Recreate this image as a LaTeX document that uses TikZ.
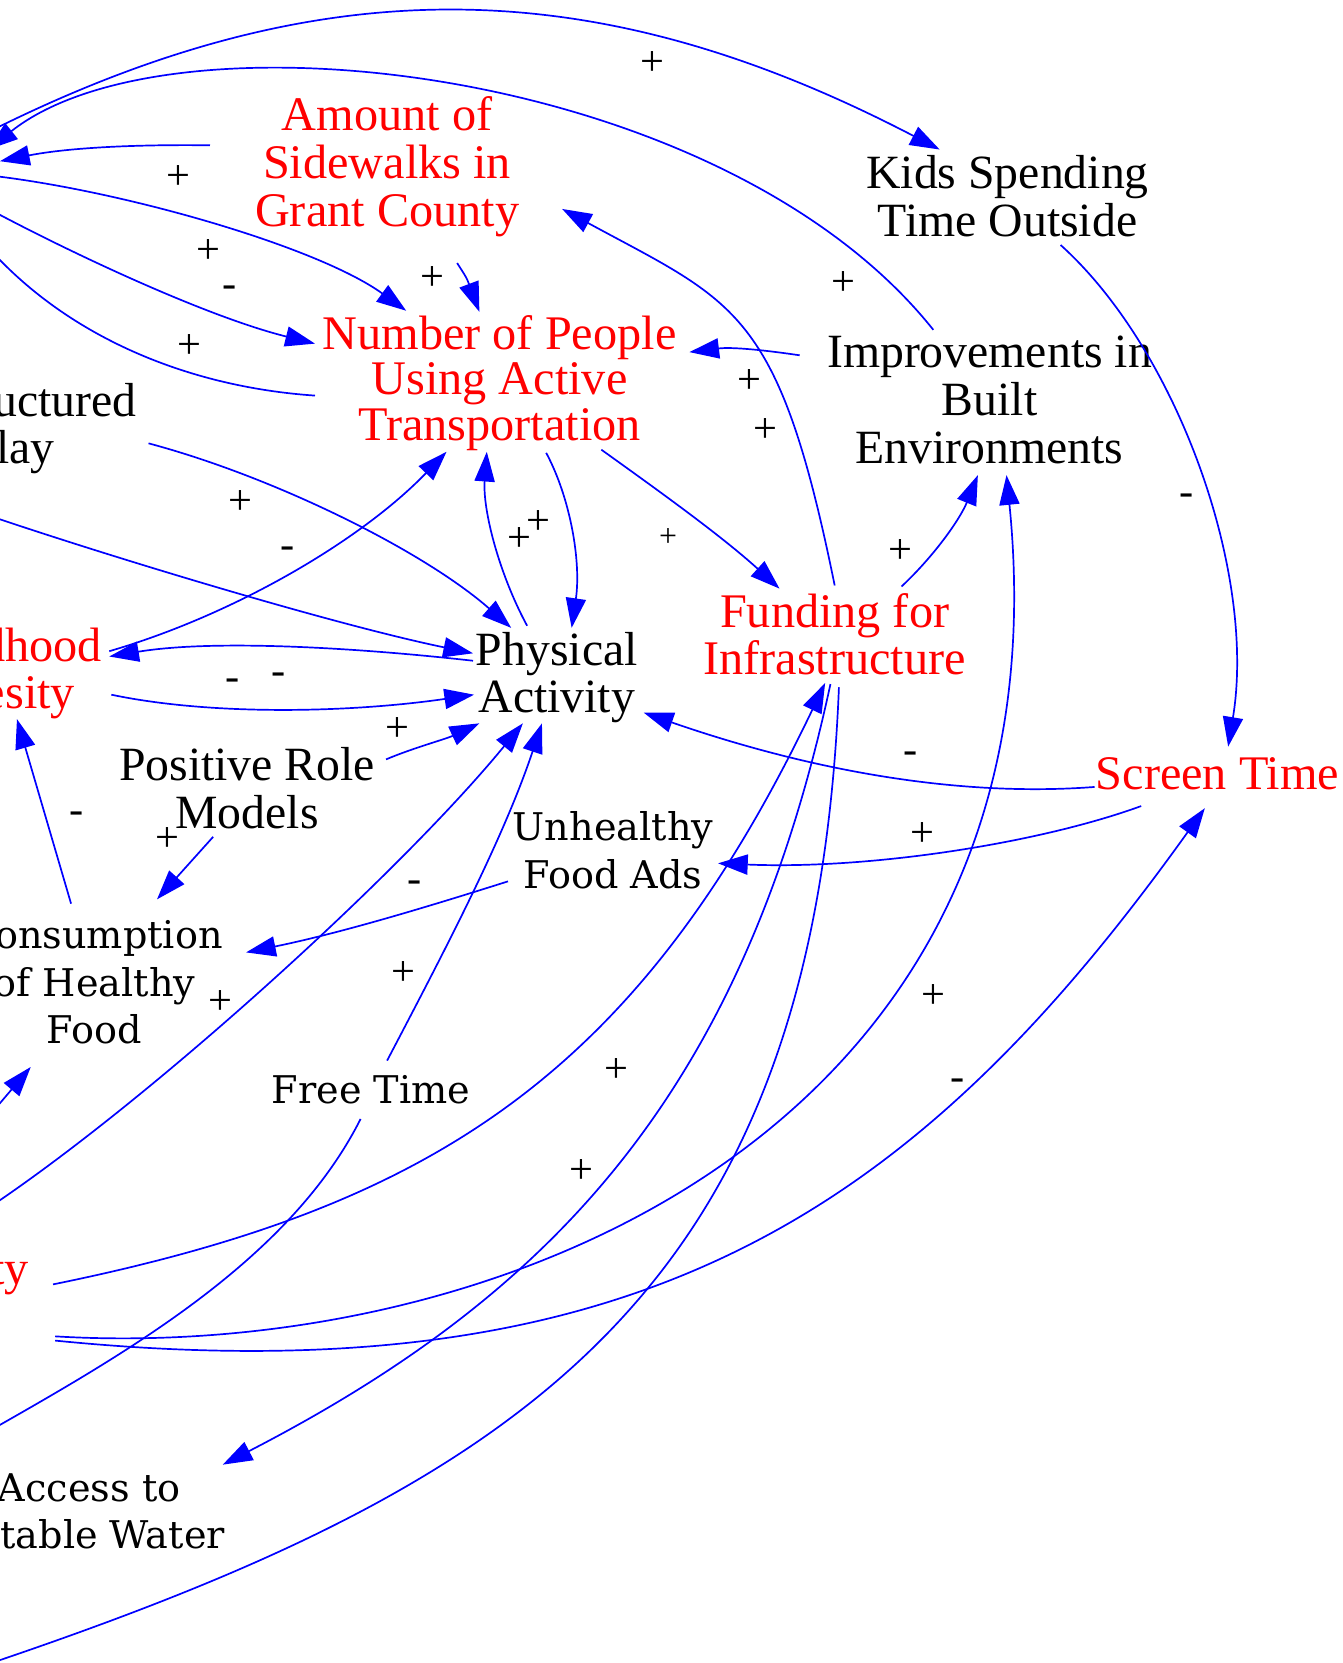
\documentclass[tikz,border=0pt]{standalone}
\usepackage{fontspec}
\setmainfont{Liberation Serif}
\newfontfamily\schoolfont{DejaVu Serif}
\usetikzlibrary{arrows.meta}
\begin{document}
\begin{tikzpicture}[x=1pt,y=-1pt,
  var/.style={font=\fontsize{45}{45}\selectfont, align=center, inner sep=0pt},
  keyvar/.style={font=\fontsize{45.5}{45}\selectfont, align=center, inner sep=0pt, text=red},
  widevar/.style={font=\schoolfont\fontsize{36}{45}\selectfont, align=center, inner sep=0pt},
  link/.style={draw=blue, line width=1.6pt, -{Triangle[length=28pt,width=19pt]}},
  tail/.style={draw=blue, line width=1.6pt},
  sign/.style={font=\fontsize{40}{40}\selectfont, inner sep=0pt},
  smallsign/.style={font=\fontsize{30}{30}\selectfont, inner sep=0pt},
]
\useasboundingbox (0,0) rectangle (1266,1568);
\fill[white] (0,0) rectangle (1266,1568);
\clip (0,0) rectangle (1266,1568);

% variables
\node[keyvar] (side) at (365,157) {Amount of\\Sidewalks in\\Grant County};
\node[keyvar, font=\fontsize{45.5}{43}\selectfont] (nump) at (471,361) {Number of People\\Using Active\\Transportation};
\node[var] (kids) at (950,185) {Kids Spending\\Time Outside};
\node[var] (impr) at (933,377) {Improvements in\\Built\\Environments};
\node[var] (play) at (11.5,404) {Unstructured\\Play};
\node[keyvar] (obes) at (0,635) {Childhood\\Obesity};
\node[var] (phys) at (525,639) {Physical\\Activity};
\node[keyvar] (fund) at (787,598) {Funding for\\Infrastructure};
\node[keyvar] (scrn) at (1148,730) {Screen Time};
\node[var] (role) at (233,743) {Positive Role\\Models};
\node[widevar] (ads) at (578,802) {Unhealthy\\Food Ads};
\node[widevar] (cons) at (89,926) {Consumption\\of Healthy\\Food};
\node[widevar] (free) at (350,1027) {Free Time};
\node[keyvar] (pov) at (-43.7,1201) {Poverty};
\node[widevar] (acc) at (84,1425) {Access to\\Potable Water};

% loose ends leading to variables beyond the left margin
\coordinate (offA) at (-10,124);
\coordinate (offB) at (-11,141);
\coordinate (offC) at (0,152);
\coordinate (offD) at (-5,166);
\coordinate (offE) at (-5,200);
\coordinate (offF) at (-5,240);
\coordinate (offG) at (-5,488);
\coordinate (offH) at (-5,1135);
\coordinate (offI) at (-5,1046);
\coordinate (offJ) at (-15,1352);
\coordinate (offK) at (-20,1572);

% links
\draw[link] (offA) .. controls (308,-35) and (567,-25) .. ([shift={(-64,-44)}]kids.center);
\draw[link] ([shift={(-53,-66)}]impr.center) .. controls (680,60) and (160,5) .. (offB);
\draw[link] ([shift={(-167,-20)}]side.center) .. controls (120,136) and (60,140) .. (offC);
\draw[link] (offD) .. controls (120,181) and (300,233) .. ([shift={(-88,-68)}]nump.center);
\draw[link] (offE) .. controls (80,245) and (200,300) .. ([shift={(-174,-37)}]nump.center);
\draw[tail] ([shift={(-174,12)}]nump.center) .. controls (180,365) and (70,320) .. (offF);
\draw[link] ([shift={(66,91)}]side.center) .. controls (440,262) .. ([shift={(-19,-67)}]nump.center);
\draw[link] ([shift={(0,-46)}]fund.center) .. controls (734,291) and (694,286) .. ([shift={(165,40)}]side.center);
\draw[link] ([shift={(-179,-42)}]impr.center) .. controls (720,330) and (690,327) .. ([shift={(179,-29)}]nump.center);
\draw[link] ([shift={(96,63)}]nump.center) .. controls (620,462) and (680,505) .. ([shift={(-52,-43)}]fund.center);
\draw[link] ([shift={(63,-45)}]fund.center) .. controls (880,525) and (905,490) .. ([shift={(-11,71)}]impr.center);
\draw[link] ([shift={(50,46)}]kids.center) .. controls (1110,330) and (1185,540) .. ([shift={(10,-26)}]scrn.center);
\draw[link] ([shift={(128.5,14)}]play.center) .. controls (260,450) and (400,520) .. ([shift={(-43,-47)}]phys.center);
\draw[link] ([shift={(103,-21)}]obes.center) .. controls (220,580) and (340,510) .. ([shift={(-50,65)}]nump.center);
\draw[link] ([shift={(-28,-49)}]phys.center) .. controls (470,540) and (455,480) .. ([shift={(-12,65)}]nump.center);
\draw[link] ([shift={(44,66)}]nump.center) .. controls (538,470) and (548,530) .. ([shift={(14,-47)}]phys.center);
\draw[link] (offG) .. controls (120,530) and (320,590) .. ([shift={(-79,-23)}]phys.center);
\draw[link] ([shift={(-79,-16)}]phys.center) .. controls (330,610) and (200,603) .. ([shift={(103,-16)}]obes.center);
\draw[link] ([shift={(105,20)}]obes.center) .. controls (200,675) and (330,672) .. ([shift={(-78,16)}]phys.center);
\draw[link] ([shift={(131,-27)}]role.center) .. controls (390,705) and (420,697) .. ([shift={(-73,43)}]phys.center);
\draw[link] ([shift={(-32,46)}]role.center) -- ([shift={(59,-78)}]cons.center);
\draw[link] ([shift={(-22,-74)}]cons.center) -- ([shift={(16,43)}]obes.center);
\draw[link] ([shift={(-116,12)}]scrn.center) .. controls (900,752) and (760,725) .. ([shift={(82,33)}]phys.center);
\draw[link] ([shift={(-72,30)}]scrn.center) .. controls (980,795) and (820,820) .. ([shift={(99,12)}]ads.center);
\draw[link] ([shift={(-99,29)}]ads.center) .. controls (400,856) and (320,880) .. ([shift={(143,-28)}]cons.center);
\draw[link] ([shift={(15,-27)}]free.center) .. controls (420,895) and (475,790) .. ([shift={(-14,43)}]phys.center);
\draw[link] (offH) .. controls (150,1030) and (380,820) .. ([shift={(-32,43)}]phys.center);
\draw[link] (offI) -- ([shift={(-60,80)}]cons.center);
\draw[tail] ([shift={(-10,28)}]free.center) .. controls (272,1190) and (115,1278) .. (offJ);
\draw[link] ([shift={(93.7,10)}]pov.center) .. controls (404,1139) and (600,1016) .. ([shift={(-9,46)}]fund.center);
\draw[link] ([shift={(-4,47)}]fund.center) .. controls (699,1035) and (516,1223) .. ([shift={(126,-44)}]acc.center);
\draw[tail] ([shift={(4,50)}]fund.center) .. controls (768,1221) and (495,1399) .. (offK);
\draw[link] ([shift={(95.7,59)}]pov.center) .. controls (469,1285) and (1011,1066) .. ([shift={(16,71)}]impr.center);
\draw[link] ([shift={(95.7,63)}]pov.center) .. controls (605,1319) and (866,1139) .. ([shift={(-12,32)}]scrn.center);

% polarity signs
\node[sign] (s1) at (615,60) {+};
\node[sign] (s2) at (168,167) {+};
\node[sign] (s3) at (197,237) {+};
\node[sign] (s4) at (216,275) {-};
\node[sign] (s5) at (179,327) {+};
\node[sign] (s6) at (408,263) {+};
\node[sign] (s7) at (795,267) {+};
\node[sign] (s8) at (707,360) {+};
\node[sign] (s9) at (722,406) {+};
\node[smallsign] (s10) at (630,507) {+};
\node[sign] (s11) at (849,520) {+};
\node[sign] (s12) at (1119,471) {-};
\node[sign] (s13) at (227,474) {+};
\node[sign] (s14) at (271,521) {-};
\node[sign] (s15) at (490,509) {+};
\node[sign] (s16) at (508,493) {+};
\node[sign] (s17) at (219,646) {-};
\node[sign] (s18) at (263,640) {-};
\node[sign] (s19) at (375,688) {+};
\node[sign] (s20) at (72,771) {-};
\node[sign] (s21) at (158,792) {+};
\node[sign] (s22) at (859,714) {-};
\node[sign] (s23) at (870,787) {+};
\node[sign] (s24) at (391,836) {-};
\node[sign] (s25) at (380,918) {+};
\node[sign] (s26) at (208,945) {+};
\node[sign] (s27) at (581,1009) {+};
\node[sign] (s28) at (548,1105) {+};
\node[sign] (s29) at (880,940) {+};
\node[sign] (s30) at (903,1023) {-};
\end{tikzpicture}
\end{document}
